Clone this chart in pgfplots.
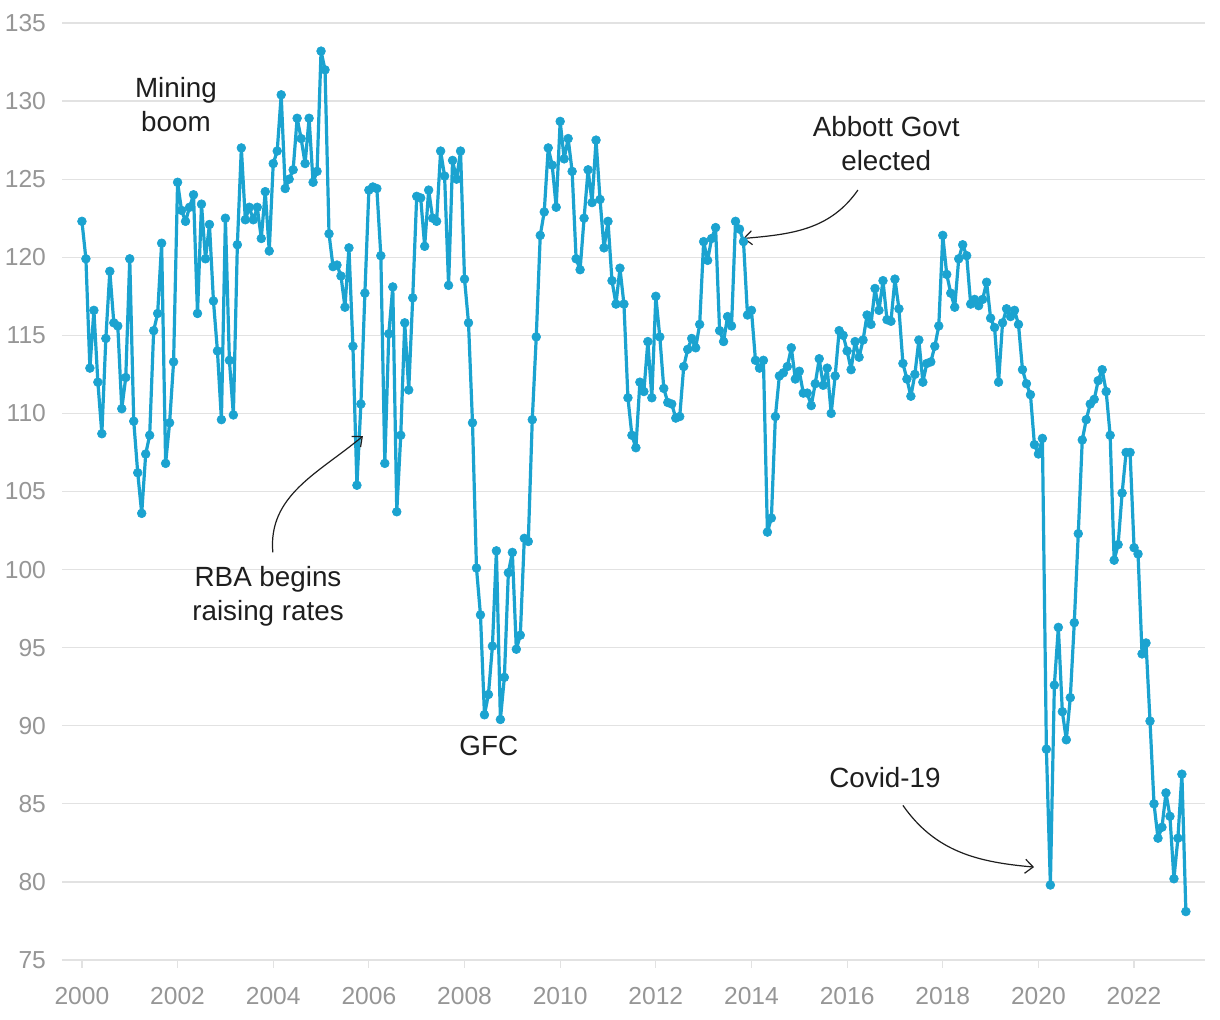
\documentclass[border=0pt]{standalone}
\usepackage{pgfplots}
\pgfplotsset{compat=1.18}
\usepackage{pgfplotstable}
\usepackage{fontspec}
\setmainfont{Liberation Sans}
\usetikzlibrary{arrows.meta}
\definecolor{linec}{RGB}{27,163,208}
\definecolor{tickc}{RGB}{150,150,150}
\definecolor{gridc}{RGB}{226,226,226}
\definecolor{txt}{RGB}{30,30,30}

\pgfplotstableread{
v
122.3
119.9
112.9
116.6
112.0
108.7
114.8
119.1
115.8
115.6
110.3
112.3
119.9
109.5
106.2
103.6
107.4
108.6
115.3
116.4
120.9
106.8
109.4
113.3
124.8
123.0
122.3
123.2
124.0
116.4
123.4
119.9
122.1
117.2
114.0
109.6
122.5
113.4
109.9
120.8
127.0
122.4
123.2
122.4
123.2
121.2
124.2
120.4
126.0
126.8
130.4
124.4
125.0
125.6
128.9
127.6
126.0
128.9
124.8
125.5
133.2
132.0
121.5
119.4
119.5
118.8
116.8
120.6
114.3
105.4
110.6
117.7
124.3
124.5
124.4
120.1
106.8
115.1
118.1
103.7
108.6
115.8
111.5
117.4
123.9
123.8
120.7
124.3
122.5
122.3
126.8
125.2
118.2
126.2
125.0
126.8
118.6
115.8
109.4
100.1
97.1
90.7
92.0
95.1
101.2
90.4
93.1
99.8
101.1
94.9
95.8
102.0
101.8
109.6
114.9
121.4
122.9
127.0
125.9
123.2
128.7
126.3
127.6
125.5
119.9
119.2
122.5
125.6
123.5
127.5
123.7
120.6
122.3
118.5
117.0
119.3
117.0
111.0
108.6
107.8
112.0
111.4
114.6
111.0
117.5
114.9
111.6
110.7
110.6
109.7
109.8
113.0
114.1
114.8
114.2
115.7
121.0
119.8
121.2
121.9
115.3
114.6
116.2
115.6
122.3
121.8
121.0
116.3
116.6
113.4
112.9
113.4
102.4
103.3
109.8
112.4
112.6
113.0
114.2
112.2
112.7
111.3
111.3
110.5
111.9
113.5
111.8
112.9
110.0
112.4
115.3
115.0
114.0
112.8
114.6
113.6
114.7
116.3
115.7
118.0
116.6
118.5
116.0
115.9
118.6
116.7
113.2
112.2
111.1
112.5
114.7
112.0
113.2
113.3
114.3
115.6
121.4
118.9
117.7
116.8
119.9
120.8
120.1
117.0
117.3
116.9
117.3
118.4
116.1
115.5
112.0
115.8
116.7
116.2
116.6
115.7
112.8
111.9
111.2
108.0
107.4
108.4
88.5
79.8
92.6
96.3
90.9
89.1
91.8
96.6
102.3
108.3
109.6
110.6
110.9
112.1
112.8
111.4
108.6
100.6
101.6
104.9
107.5
107.5
101.4
101.0
94.6
95.3
90.3
85.0
82.8
83.5
85.7
84.2
80.2
82.8
86.9
78.1
}\sentiment

\begin{document}
\begin{tikzpicture}
\useasboundingbox (-31pt,-30pt) rectangle (579pt,480pt);
\begin{axis}[
  at={(0,0)}, anchor=south west,
  scale only axis,
  width=571.5pt, height=468.5pt,
  xmin=-5, xmax=281.8,
  ymin=75, ymax=135,
  axis x line*=bottom,
  axis y line*=left,
  y axis line style={draw=none},
  x axis line style={draw=gridc, line width=0.6pt},
  ytick={75,80,...,135},
  xtick={0,24,...,264},
  xticklabels={2000,2002,2004,2006,2008,2010,2012,2014,2016,2018,2020,2022},
  ymajorgrids,
  grid style={draw=gridc, line width=0.6pt},
  ytick style={draw=none},
  xtick style={draw=gridc, line width=0.6pt},
  tick align=outside,
  major tick length=4pt,
  tick label style={font=\fontsize{12.3}{14}\selectfont, text=tickc},
  xticklabel style={yshift=-6pt},
  yticklabel style={xshift=-0.5pt},
  /pgf/number format/assume math mode=true,
  /pgf/number format/1000 sep={},
  clip=false,
]
\addplot[color=linec, line width=1.6pt, line join=round, mark=*, mark size=2.2pt, mark options={solid, fill=linec, draw=linec, line width=0.3pt}]
  table[x expr=\coordindex, y=v] {\sentiment};

\begin{scope}[every node/.style={font=\fontsize{13.9}{17}\selectfont, text=txt, align=center}]
\node at (axis cs:23.6,129.75) {Mining\\boom};
\node at (axis cs:46.7,98.3) {RBA begins\\raising rates};
\node at (axis cs:102.1,88.7) {GFC};
\node at (axis cs:201.8,127.3) {Abbott Govt\\elected};
\node at (axis cs:201.5,86.65) {Covid-19};
\end{scope}
\draw[-{Straight Barb[length=4pt,width=7pt]}, line width=0.6pt, txt] (axis cs:47.9,101.1) to[out=95,in=220] (axis cs:70.5,108.55);
\draw[-{Straight Barb[length=4pt,width=7pt]}, line width=0.6pt, txt] (axis cs:194.7,124.3) to[out=235,in=5] (axis cs:165.9,121.2);
\draw[-{Straight Barb[length=4pt,width=7pt]}, line width=0.6pt, txt] (axis cs:206.0,84.9) to[out=-55,in=175] (axis cs:238.9,80.95);
\end{axis}
\end{tikzpicture}
\end{document}
